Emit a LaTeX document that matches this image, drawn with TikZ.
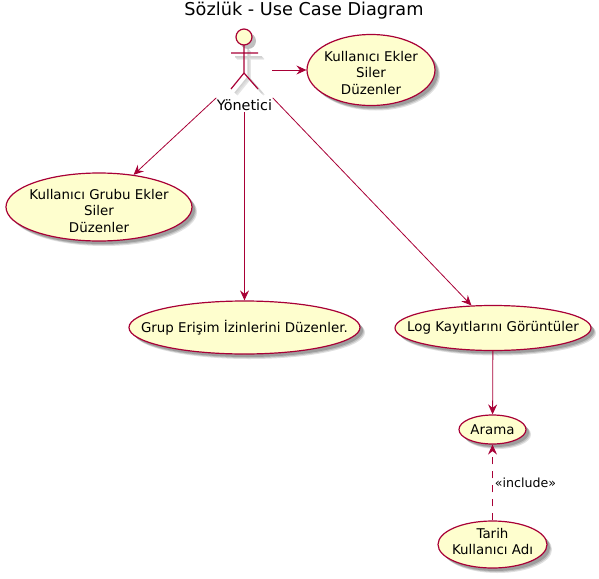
\documentclass[tikz,border=0pt]{standalone}
\usepackage{fontspec}
\setmainfont{DejaVu Sans}
\usepackage{xcolor}
\usetikzlibrary{arrows.meta}
\usetikzlibrary{shapes.geometric}
\usetikzlibrary{shadows}

\definecolor{umlline}{HTML}{A80036}
\definecolor{umlfill}{HTML}{FEFECE}

\begin{document}
\begin{tikzpicture}[x=1pt, y=-1pt]

\tikzset{
    usecase/.style = {
    ellipse, draw=umlline, fill=umlfill, line width=1.2pt, inner sep=0pt,
    drop shadow={shadow xshift=5pt, shadow yshift=-5pt, fill=black, opacity=0.12},
    drop shadow={shadow xshift=4pt, shadow yshift=-4pt, fill=black, opacity=0.15},
    drop shadow={shadow xshift=3pt, shadow yshift=-3pt, fill=black, opacity=0.18}
    },
    lignes/.style = {
    align=center, inner sep=0pt, font=\fontsize{13.4}{16.5}\selectfont
    }
}

\tikzstyle{lien}=[draw=umlline, line width=0.8pt, -{Stealth[length=10pt, width=9pt, inset=3.5pt]}]
\tikzstyle{pointille}=[lien, dash pattern=on 7pt off 7pt]
\tikzstyle{membre}=[draw=umlline, line width=1.2pt]

\useasboundingbox (0,0) rectangle (599,578);

\node (titre) [inner sep=0pt, font=\fontsize{17.7}{20}\selectfont] at (304,11) {Sözlük - Use Case Diagram};

% actor
\foreach \s/\c in {6/black!10, 5/black!14, 4/black!18} {
    \draw [\c, line width=1.5pt, shift={(\s,\s)}] (244,45) -- (244,73) (231,53) -- (258,53) (231,89) -- (244,73) -- (258,89);
}
\fill [black!25] (248,41) circle (8);
\draw [membre] (244,45) -- (244,73) (231,53) -- (258,53) (231,89) -- (244,73) -- (258,89);
\node (tete) [circle, draw=umlline, fill=umlfill, line width=1.2pt, inner sep=0pt, minimum size=16pt] at (244,37) {};
\node (yonetici) [inner sep=0pt, minimum width=56pt, minimum height=14pt, font=\fontsize{14.4}{16}\selectfont] at (244.5,105) {Yönetici};
\coordinate (acteur) at (272,70);

\node (ekler) [usecase, minimum width=128pt, minimum height=71pt, label={[lignes, yshift=-3pt]center:{Kullanıcı Ekler\\Siler\\Düzenler}}] at (371,70) {};
\node (grubu) [usecase, minimum width=186pt, minimum height=68pt, label={[lignes, yshift=-4pt]center:{Kullanıcı Grubu Ekler\\Siler\\Düzenler}}] at (99,207) {};
\node (izin) [usecase, minimum width=231pt, minimum height=53pt, label={[lignes]center:{Grup Erişim İzinlerini Düzenler.}}] at (244.5,327.5) {};
\node (log) [usecase, minimum width=196pt, minimum height=45pt, label={[lignes]center:{Log Kayıtlarını Görüntüler}}] at (493,328) {};
\node (arama) [usecase, minimum width=67pt, minimum height=29pt, label={[lignes]center:{Arama}}] at (492.5,429.5) {};
\node (tarih) [usecase, minimum width=109pt, minimum height=47pt, label={[lignes, yshift=3pt]center:{Tarih\\Kullanıcı Adı}}] at (492.5,544.5) {};

\draw [lien] (acteur) -- (ekler);
\draw [lien] (yonetici.north west) -- (grubu);
\draw [lien] (yonetici.south) -- (izin);
\draw [lien] (yonetici.north east) -- (log);
\draw [lien] (log) -- (arama);
\draw [pointille] (tarih) -- (arama) node [midway, right, inner sep=0pt, xshift=2pt, font=\fontsize{12.6}{14}\selectfont] (inclure) {«include»};

\end{tikzpicture}
\end{document}
